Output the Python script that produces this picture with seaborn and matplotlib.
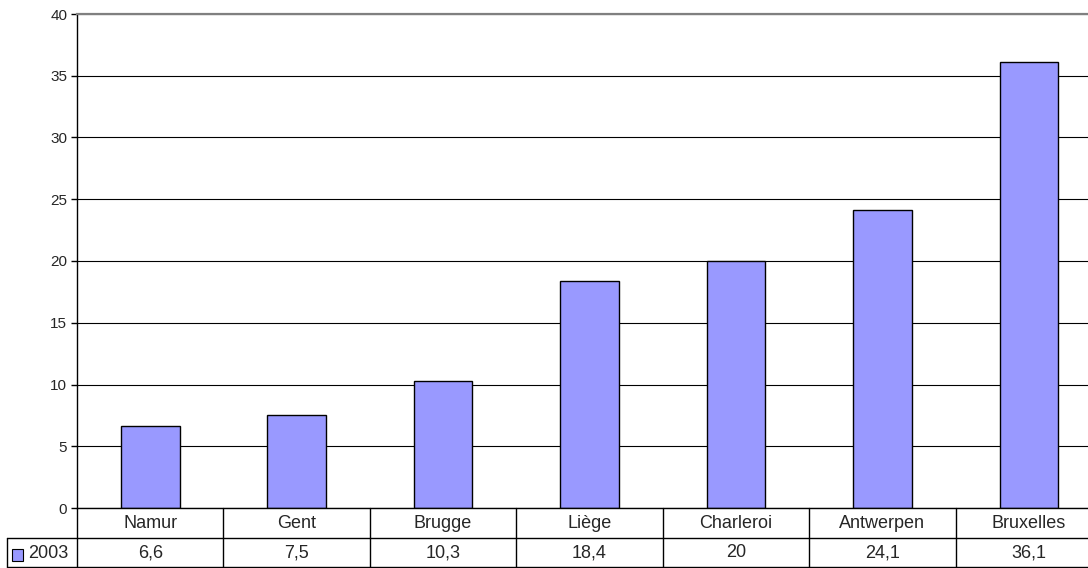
import matplotlib
matplotlib.use('Agg')
import matplotlib.pyplot as plt
import matplotlib.transforms as mtransforms
from matplotlib.patches import Rectangle
import seaborn as sns

sns.set_style('white')
plt.rcParams['font.family'] = ['Liberation Sans', 'DejaVu Sans']

CITIES = ["Namur", "Gent", "Brugge", "Liège", "Charleroi", "Antwerpen", "Bruxelles"]
VALUES = [6.6, 7.5, 10.3, 18.4, 20, 24.1, 36.1]
SERIES = "2003"
YTICKS = [0, 5, 10, 15, 20, 25, 30, 35, 40]
BAR_COLOR = '#9999FF'

W, H = 1088, 568
fig = plt.figure(figsize=(W / 100, H / 100), dpi=100)
# plot area: x 77 -> 1102 px (clipped at right edge), y 14 -> 508 px
ax = fig.add_axes([77 / W, (H - 508) / H, 1025 / W, 494 / H])

sns.barplot(x=CITIES, y=VALUES, color=BAR_COLOR, saturation=1,
            edgecolor='black', linewidth=1, width=0.4, ax=ax)

ax.set_xlim(-0.5, len(CITIES) - 0.5)
ax.set_ylim(0, 40)
ax.set_yticks(YTICKS)
ax.set_yticklabels([str(t) for t in YTICKS], fontsize=11)
ax.set_xticks([])
ax.set_xlabel('')
ax.set_ylabel('')
ax.tick_params(axis='y', direction='out', length=4, width=1, color='black', pad=3, left=True)
ax.yaxis.grid(True, color='black', linewidth=0.8)
ax.set_axisbelow(True)
for s in ['left', 'bottom']:
    ax.spines[s].set_color('black')
    ax.spines[s].set_linewidth(1)
ax.spines['top'].set_color('#808080')
ax.spines['top'].set_linewidth(1.6)
ax.spines['right'].set_visible(False)

# ── data table under the axis ──
trans = mtransforms.blended_transform_factory(ax.transData, ax.transAxes)
r1 = -(538 - 508) / 494
r2 = -(567 - 508) / 494
x_left = (7 - 77) / 1025
n = len(CITIES)
lw = 1
for k in range(n + 1):
    ax.plot([k - 0.5, k - 0.5], [0, r2], transform=trans, color='black', lw=lw, clip_on=False)
ax.plot([x_left, 1], [r1, r1], transform=ax.transAxes, color='black', lw=lw, clip_on=False)
ax.plot([x_left, 1], [r2, r2], transform=ax.transAxes, color='black', lw=lw, clip_on=False)
ax.plot([x_left, x_left], [r1, r2], transform=ax.transAxes, color='black', lw=lw, clip_on=False)

for i, (c, v) in enumerate(zip(CITIES, VALUES)):
    ax.text(i, r1 / 2, c, transform=trans, ha='center', va='center', fontsize=13)
    ax.text(i, (r1 + r2) / 2, f"{v:g}".replace('.', ','), transform=trans,
            ha='center', va='center', fontsize=13)

# legend key + series name in the left column
ax.add_patch(Rectangle((12 / W, (H - 561) / H), 11 / W, 12 / H, transform=fig.transFigure,
                       facecolor=BAR_COLOR, edgecolor='black', lw=0.8, clip_on=False))
fig.text(28 / W, (H - 553) / H, SERIES, ha='left', va='center', fontsize=13)

fig.savefig('out.png', dpi=100)
